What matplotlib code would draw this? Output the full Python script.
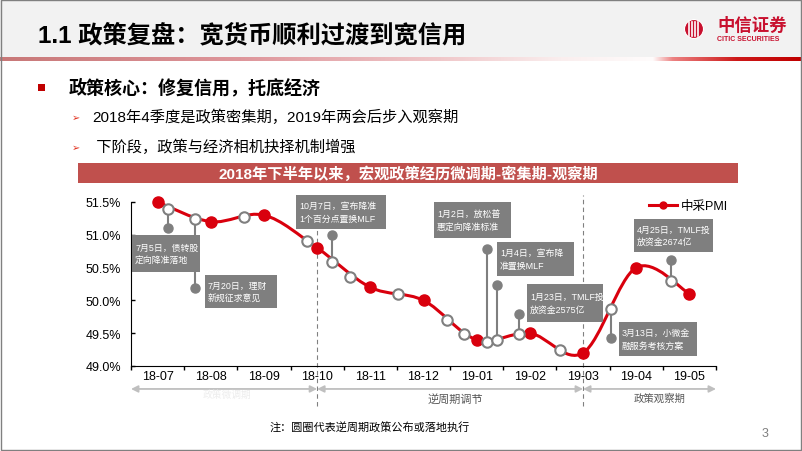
import numpy as np
import matplotlib
matplotlib.use('Agg')
import matplotlib.pyplot as plt
from matplotlib.path import Path
from matplotlib.patches import PathPatch, Rectangle, Circle
from matplotlib.lines import Line2D

plt.rcParams['font.family'] = ['Liberation Sans', 'Noto Sans CJK SC', 'DejaVu Sans']

# ---- data ----
months = ['18-07', '18-08', '18-09', '18-10', '18-11', '18-12',
          '19-01', '19-02', '19-03', '19-04', '19-05']
pmi = [51.5, 51.2, 51.3, 50.8, 50.2, 50.0, 49.4, 49.5, 49.2, 50.5, 50.1]

# policy events with a note: x in month index, y on the curve, y of the stem end
event_x = [0.19, 0.71, 3.28, 6.19, 6.38, 6.79, 8.52, 9.66]
event_y = [51.40, 51.24, 50.59, 49.37, 49.40, 49.49, 49.87, 50.29]
event_end = [51.10, 50.19, 51.00, 50.79, 50.24, 49.80, 49.43, 50.61]
event_text = ['7月5日，债转股\n定向降准落地',
              '7月20日，理财\n新规征求意见',
              '10月7日，宣布降准\n1个百分点置换MLF',
              '1月2日，放松普\n惠定向降准标准',
              '1月4日，宣布降\n准置换MLF',
              '1月23日，TMLF投\n放资金2575亿',
              '3月13日，小微金\n融服务考核方案',
              '4月25日，TMLF投\n放资金2674亿']
# other policy circles without a note
plain_x = [1.63, 2.81, 3.62, 4.52, 5.44, 5.76, 7.56]
plain_y = [51.27, 50.91, 50.36, 50.09, 49.70, 49.49, 49.25]

phase_names = ['政策微调期', '逆周期调节', '政策观察期']
phase_edges = [-0.5, 3, 8, 10.5]

# note boxes in slide pixels (x0, y0, x1, y1)
box_px = [(132, 236, 200, 273), (205, 276, 277, 309), (296, 196, 386, 230),
          (434, 203, 511, 239), (497, 243, 574, 277), (527, 285, 603, 323),
          (619, 323, 697, 357), (634, 220, 713, 253)]

RED = '#D9000D'
GRAY = '#7F7F7F'

fig = plt.figure(figsize=(8.02, 4.52), dpi=100)
W, H = 802, 452

# chart area
ax = fig.add_axes([131 / W, 1 - 367 / H, (716 - 131) / W, (367 - 203) / H])
ax.set_facecolor('none')
ax.set_xlim(-0.5, 10.5)
ax.set_ylim(49.0, 51.5)


def smooth_path(xs, ys):
    # excel style smoothed line through the points
    pts = np.column_stack([xs, ys])
    n = len(pts)
    verts = [pts[0]]
    codes = [Path.MOVETO]
    for i in range(n - 1):
        p0 = pts[max(i - 1, 0)]
        p1 = pts[i]
        p2 = pts[i + 1]
        p3 = pts[min(i + 2, n - 1)]
        verts += [p1 + (p2 - p0) / 6, p2 - (p3 - p1) / 6, p2]
        codes += [Path.CURVE4] * 3
    return Path(verts, codes)


xi = np.arange(len(months))
ax.add_patch(PathPatch(smooth_path(xi, pmi), fill=False, ec=RED, lw=2.2,
                       zorder=3, clip_on=False))
ax.plot(xi, pmi, 'o', color=RED, ms=8, zorder=5, clip_on=False)

for x, y, e in zip(event_x, event_y, event_end):
    ax.plot([x, x], [y, e], color=GRAY, lw=1.5, zorder=2)
    ax.plot(x, e, 'o', color=GRAY, ms=6.5, zorder=2)
ax.plot(event_x + plain_x, event_y + plain_y, 'o', mfc='white', mec=GRAY,
        mew=1.5, ms=7.5, zorder=6, clip_on=False)

# phase separators and arrows
for xv in phase_edges[1:3]:
    ax.axvline(xv, ymin=-0.245, ymax=1.04, color='#808080', lw=0.8,
               ls=(0, (4, 3)), clip_on=False, zorder=1)
for a, b in zip(phase_edges[:-1], phase_edges[1:]):
    ax.annotate('', xy=(b, -0.14), xytext=(a, -0.14),
                xycoords=('data', 'axes fraction'),
                arrowprops=dict(arrowstyle='<|-|>', color='#BFBFBF', lw=1.3,
                                mutation_scale=10, shrinkA=0, shrinkB=0))
ax.text(1.3, -0.17, phase_names[0], transform=ax.get_xaxis_transform(),
        ha='center', va='center', fontsize=7, color='#EDEDED')
ax.text(5.6, -0.195, phase_names[1], transform=ax.get_xaxis_transform(),
        ha='center', va='center', fontsize=8, color='#595959')
ax.text(9.44, -0.19, phase_names[2], transform=ax.get_xaxis_transform(),
        ha='center', va='center', fontsize=7.5, color='#595959')

ax.set_xticks(np.arange(-0.5, 11, 1))
ax.set_xticklabels([])
ax.set_xticks(xi, minor=True)
ax.set_xticklabels(months, minor=True)
ax.tick_params(axis='x', which='major', direction='out', length=3, width=1)
ax.tick_params(axis='x', which='minor', length=0, pad=3, labelsize=9)
yt = np.arange(49.0, 51.51, 0.5)
ax.set_yticks(yt)
ax.set_yticklabels(['%.1f%%' % v for v in yt])
ax.tick_params(axis='y', direction='in', length=3, width=1, pad=7, labelsize=9)
for s in ['top', 'right']:
    ax.spines[s].set_visible(False)

leg_h = Line2D([], [], color=RED, lw=2.2, marker='o', ms=5)
ax.legend([leg_h], ['中采PMI'], loc='center left', bbox_to_anchor=(0.885, 0.975),
          frameon=False, fontsize=9, handlelength=2.3, handletextpad=0.3,
          borderpad=0, borderaxespad=0)

# slide decorations in pixel coordinates
ov = fig.add_axes([0, 0, 1, 1], zorder=10)
ov.set_facecolor('none')
ov.axis('off')

ov.add_patch(Rectangle((0, 0), W, 58, color='#F2F2F2', lw=0))
stops = [(0, (200, 120, 120)), (0.3, (222, 150, 155)), (0.55, (240, 200, 202)),
         (0.7, (250, 238, 238)), (0.815, (255, 252, 252)), (0.84, (236, 130, 130)),
         (0.92, (205, 25, 25)), (1.0, (192, 0, 0))]
gx = np.linspace(0, 1, 400)
grad = np.stack([np.interp(gx, [s[0] for s in stops], [s[1][k] for s in stops])
                 for k in range(3)], axis=-1)[None, :, :] / 255
ov.imshow(grad, extent=(0, W, 62, 58), aspect='auto', interpolation='bilinear')

ov.text(38, 36, '1.1 政策复盘：宽货币顺利过渡到宽信用', fontsize=17.5,
        fontweight='bold', va='center', ha='left', color='black')

# logo
ov.add_patch(Circle((694, 30), 9.5, color='#C8102E', lw=0))
for dx in [-5, -2, 1, 4]:
    ov.plot([694 + dx, 694 + dx], [23, 37], color='white', lw=1.2)
ov.add_patch(Circle((694, 30), 9.5, fill=False, ec='white', lw=0.8))
ov.text(717, 25, '中信证券', fontsize=12.5, fontweight='bold', color='#C8102E',
        va='center', ha='left')
ov.text(717, 39.5, 'CITIC SECURITIES', fontsize=5, fontweight='bold', color='#C8102E',
        va='center', ha='left')

ov.add_patch(Rectangle((37.5, 84.5), 7, 7, color='#C00000', lw=0))
ov.text(69, 88, '政策核心：修复信用，托底经济', fontsize=13, fontweight='bold',
        va='center', ha='left')
ov.text(72, 118, '➢', fontsize=7, color='#E0301E', va='center', ha='left')
ov.text(92, 117, '2018年4季度是政策密集期，2019年两会后步入观察期', fontsize=11,
        va='center', ha='left')
ov.text(72, 148, '➢', fontsize=7, color='#E0301E', va='center', ha='left')
ov.text(92, 147, ' 下阶段，政策与经济相机抉择机制增强', fontsize=11,
        va='center', ha='left')

ov.add_patch(Rectangle((78, 164), 660, 20, color='#C0504D', lw=0))
ov.text(408, 174, '2018年下半年以来，宏观政策经历微调期-密集期-观察期', fontsize=11,
        fontweight='bold', color='white', va='center', ha='center')

for (x0, y0, x1, y1), t in zip(box_px, event_text):
    ov.add_patch(Rectangle((x0, y0), x1 - x0, y1 - y0, color=GRAY, lw=0))
    ov.text(x0 + 3, (y0 + y1) / 2, t, fontsize=6.4, color='white',
            va='center', ha='left', linespacing=1.5)

ov.text(370, 428, '注：圆圈代表逆周期政策公布或落地执行', fontsize=8,
        va='center', ha='center')
ov.text(765, 434, '3', fontsize=9, color='#7F7F7F', va='center', ha='center')

ov.add_patch(Rectangle((0.5, 0.5), W - 1.5, H - 1.5, fill=False, ec='#808080', lw=1))
ov.set_xlim(0, W)
ov.set_ylim(H, 0)

fig.savefig('out.png', dpi=100)
